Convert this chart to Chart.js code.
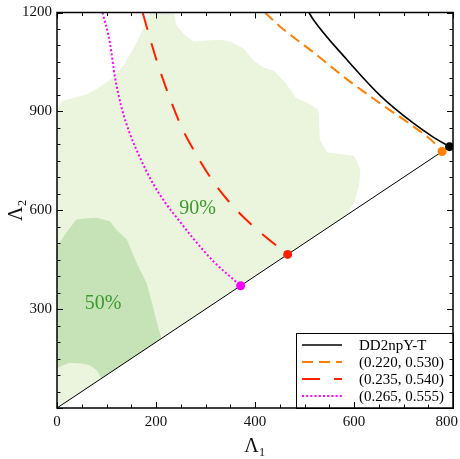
<!DOCTYPE html>
<html>
<head>
<meta charset="utf-8">
<script src="https://cdn.jsdelivr.net/npm/chart.js@4.4.1/dist/chart.umd.min.js"></script>
<style>
  html, body { margin: 0; padding: 0; background: #fff; }
</style>
</head>
<body>
<canvas id="chart" width="460" height="459"></canvas>
<script>
// ---- axes ----
const xMin = 0, xMax = 800, yMin = 0, yMax = 1200;
const xMajor = 200, yMajor = 300, minorStep = 50;
const xTickLabels = [0, 200, 400, 600, 800];

// ---- credible regions (Lambda1, Lambda2) ----
const lightX = [0, 583, 600, 610, 613, 600, 546, 531, 529, 526, 505, 482, 461, 438, 417, 397, 377, 350, 330, 303, 276, 259, 242, 235, 188, 184, 174, 154, 134, 113, 86, 60, 12, 0, 0];
const lightY = [0, 583, 623, 673, 724, 765, 775, 815, 892, 907, 927, 942, 988, 1023, 1034, 1054, 1090, 1112, 1117, 1115, 1112, 1130, 1160, 1200, 1200, 1191, 1150, 1090, 1039, 1003, 973, 952, 932, 912, 0];
const darkX = [0, 6, 26, 50, 66, 80, 90, 211, 200, 194, 181, 161, 141, 120, 107, 80, 60, 39, 20, 0, 0];
const darkY = [120, 125, 137, 135, 130, 115, 90, 211, 270, 308, 379, 440, 511, 541, 567, 577, 576, 572, 535, 490, 120];
const regionLabels = ['90%', '50%'];
const regionLabelX = [284, 93];
const regionLabelY = [606, 315];

// ---- Lambda1 = Lambda2 line ----
const diagX = [0, 793];
const diagY = [0, 793];

// ---- EOS curves ----
const seriesLabels = ['DD2npY-T', '(0.220, 0.530)', '(0.235, 0.540)', '(0.265, 0.555)'];
const dd2X = [509, 518, 585, 653, 720, 760, 793];
const dd2Y = [1200, 1178, 1058, 948, 864, 822, 793];
const s220X = [420, 451, 518, 586, 654, 721, 761, 778];
const s220Y = [1200, 1157, 1079, 997, 923, 853, 806, 778];
const s235X = [173, 201, 248, 262, 316, 363, 410, 466];
const s235Y = [1200, 1056, 864, 821, 686, 600, 534, 466];
const s265X = [92, 107, 117, 130, 147, 167, 194, 221, 248, 275, 316, 371];
const s265Y = [1200, 1107, 1005, 914, 833, 762, 681, 618, 566, 515, 445, 371];

const FONT = '"Liberation Serif", "DejaVu Serif", serif';

function pts(xs, ys) { return xs.map((x, i) => ({ x: x, y: ys[i] })); }

function curve(label, xs, ys, color, width, dash, order) {
  return {
    label: label,
    data: pts(xs, ys),
    showLine: true,
    borderColor: color,
    backgroundColor: color,
    borderWidth: width,
    borderDash: dash,
    cubicInterpolationMode: 'monotone',
    pointRadius: c => c.dataIndex === xs.length - 1 ? 4.5 : 0,
    pointBackgroundColor: color,
    pointBorderWidth: 0,
    fill: false,
    order: order
  };
}

function region(xs, ys, color, order) {
  return {
    label: '',
    data: pts(xs, ys),
    showLine: true,
    fill: 'shape',
    backgroundColor: color,
    borderColor: 'rgba(0,0,0,0)',
    borderWidth: 1,
    pointRadius: 0,
    tension: 0,
    order: order
  };
}

const curves = [
  curve(seriesLabels[0], dd2X, dd2Y, '#000000', 1.6, [], 1),
  curve(seriesLabels[1], s220X, s220Y, '#ff8000', 2, [11, 6], 2),
  curve(seriesLabels[2], s235X, s235Y, '#ff2200', 2, [18, 14], 3),
  curve(seriesLabels[3], s265X, s265Y, '#ff00ff', 2, [2, 2.2], 4)
];

// ticks, frame, x labels, region labels and legend
const decor = {
  id: 'decor',
  afterDatasetsDraw(chart) {
    const { ctx, chartArea: a, scales: { x, y } } = chart;
    ctx.save();

    // region labels
    ctx.fillStyle = '#3b9a2d';
    ctx.font = '20px ' + FONT;
    ctx.textAlign = 'center';
    ctx.textBaseline = 'middle';
    regionLabels.forEach((t, i) => {
      ctx.fillText(t, x.getPixelForValue(regionLabelX[i]), y.getPixelForValue(regionLabelY[i]));
    });

    // legend box
    const bx = a.right - 157, by = a.bottom - 75;
    ctx.fillStyle = '#fff';
    ctx.fillRect(bx, by, a.right - bx, a.bottom - by);
    ctx.strokeStyle = '#000';
    ctx.lineWidth = 1;
    ctx.strokeRect(bx + 0.5, by + 0.5, a.right - bx, a.bottom - by);
    ctx.font = '15px ' + FONT;
    ctx.textAlign = 'left';
    ctx.textBaseline = 'middle';
    curves.forEach((d, i) => {
      const ry = by + 12 + i * 17;
      ctx.strokeStyle = d.borderColor;
      ctx.lineWidth = d.borderWidth;
      ctx.setLineDash(d.borderDash);
      ctx.beginPath();
      ctx.moveTo(bx + 6, ry);
      ctx.lineTo(bx + 46, ry);
      ctx.stroke();
      ctx.setLineDash([]);
      ctx.fillStyle = '#000';
      ctx.fillText(d.label, bx + 63, ry + 1);
    });

    // inward ticks on all sides
    ctx.strokeStyle = '#000';
    ctx.lineWidth = 1;
    ctx.beginPath();
    for (let v = xMin; v <= xMax; v += minorStep) {
      const px = Math.round(x.getPixelForValue(v)) + 0.5;
      const len = v % xMajor === 0 ? 6 : 3.5;
      ctx.moveTo(px, a.bottom); ctx.lineTo(px, a.bottom - len);
      ctx.moveTo(px, a.top); ctx.lineTo(px, a.top + len);
    }
    for (let v = yMin; v <= yMax; v += minorStep) {
      const py = Math.round(y.getPixelForValue(v)) + 0.5;
      const len = v % yMajor === 0 ? 6 : 3.5;
      ctx.moveTo(a.left, py); ctx.lineTo(a.left + len, py);
      ctx.moveTo(a.right, py); ctx.lineTo(a.right - len, py);
    }
    ctx.stroke();

    // frame
    ctx.lineWidth = 1.5;
    ctx.strokeRect(a.left, a.top, a.right - a.left, a.bottom - a.top);

    // x tick labels, kept inside the canvas
    ctx.fillStyle = '#111';
    ctx.font = '15px ' + FONT;
    ctx.textAlign = 'center';
    ctx.textBaseline = 'alphabetic';
    xTickLabels.forEach(v => {
      const s = String(v);
      const w = ctx.measureText(s).width;
      let px = x.getPixelForValue(v);
      px = Math.min(px, chart.width - 2 - w / 2);
      ctx.fillText(s, px, a.bottom + 18);
    });

    ctx.restore();
  }
};

new Chart(document.getElementById('chart'), {
  type: 'scatter',
  data: {
    datasets: [
      ...curves,
      {
        label: '',
        data: pts(diagX, diagY),
        showLine: true,
        borderColor: '#000',
        borderWidth: 1,
        pointRadius: 0,
        fill: false,
        order: 8
      },
      region(darkX, darkY, '#c6e3b8', 9),
      region(lightX, lightY, '#ebf5de', 10)
    ]
  },
  options: {
    responsive: false,
    animation: false,
    events: [],
    layout: { padding: { top: 12.5, right: 7, bottom: 0, left: 0 } },
    plugins: {
      legend: { display: false },
      tooltip: { enabled: false }
    },
    scales: {
      x: {
        type: 'linear',
        min: xMin, max: xMax,
        grid: { display: false, drawTicks: false },
        border: { display: false },
        ticks: { display: false, stepSize: xMajor },
        title: {
          display: true, text: 'Λ₁', color: '#111',
          font: { family: FONT, size: 20 }, padding: 0
        },
        afterFit(s) { s.height = 51; s.paddingLeft = 0; s.paddingRight = 0; }
      },
      y: {
        type: 'linear',
        min: yMin, max: yMax,
        grid: { display: false, drawTicks: false },
        border: { display: false },
        ticks: {
          stepSize: yMajor, padding: 5, color: '#111',
          font: { family: FONT, size: 15 },
          callback: v => v === 0 ? '' : v
        },
        title: {
          display: true, text: 'Λ₂', color: '#111',
          font: { family: FONT, size: 20 }, padding: { top: 5, bottom: 0 }
        },
        afterFit(s) { s.width = 57; s.paddingTop = 0; s.paddingBottom = 0; }
      }
    }
  },
  plugins: [decor]
});
</script>
</body>
</html>
